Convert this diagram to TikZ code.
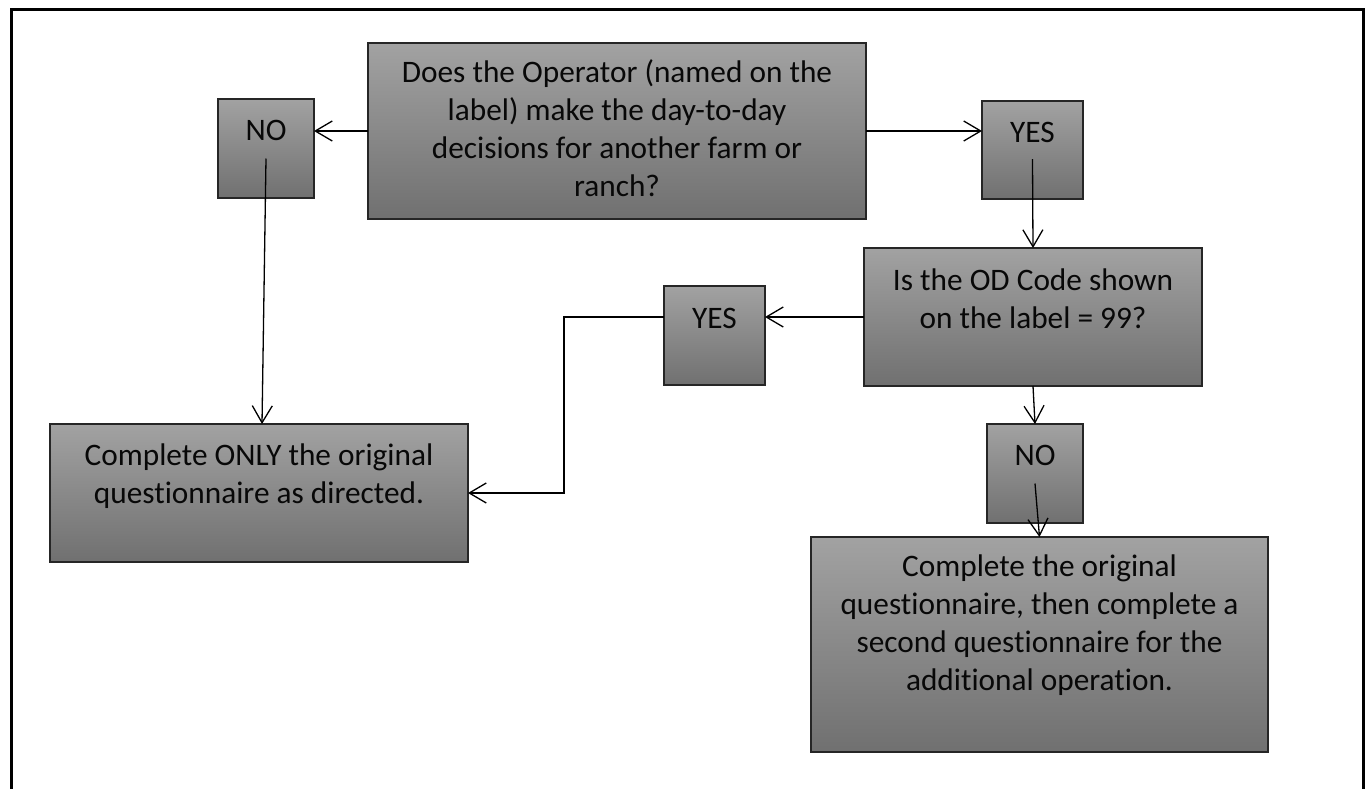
\documentclass[tikz,border=0pt]{standalone}
\usepackage{fontspec}
\setmainfont{Carlito}[Ligatures={NoCommon}]
\usetikzlibrary{arrows.meta}
\definecolor{boxtop}{RGB}{162,162,162}
\definecolor{boxbot}{RGB}{112,112,112}
\definecolor{boxline}{RGB}{38,38,38}
\definecolor{txt}{RGB}{8,8,8}
\begin{document}
\begin{tikzpicture}[x=1pt,y=-1pt,
  box/.style={draw=boxline,line width=1.5pt,top color=boxtop,bottom color=boxbot,
    inner sep=0pt,outer sep=0pt,rectangle},
  lbl/.style={anchor=base,align=center,inner sep=0pt,text=txt,
    font=\fontsize{31.3}{37.7}\selectfont},
  conn/.style={line width=1.3pt,draw=black,
    -{Straight Barb[length=17pt,width=20pt,line width=1.3pt]}},
  frame/.style={line width=3pt,draw=black}]
\useasboundingbox (0,0) rectangle (1369,788);
% frame
\coordinate (f1) at (11,790);
\coordinate (f2) at (11,9.5);
\coordinate (f3) at (1363,9.5);
\coordinate (f4) at (1363,790);
\draw[frame] (f1) -- (f2) -- (f3) -- (f4);
% boxes
\node[box,minimum width=498pt,minimum height=176pt] (q1) at (617,131) {};
\node[box,minimum width=96pt,minimum height=99pt] (no1) at (266,148.5) {};
\node[box,minimum width=101pt,minimum height=98pt] (yes1) at (1032.5,150) {};
\node[box,minimum width=338pt,minimum height=138pt] (q2) at (1033,317) {};
\node[box,minimum width=101pt,minimum height=99pt] (yes2) at (714.5,335.5) {};
\node[box,minimum width=96pt,minimum height=99pt] (no2) at (1035,473.5) {};
\node[box,minimum width=418pt,minimum height=138pt] (only) at (259,493) {};
\node[box,minimum width=457pt,minimum height=215pt] (both) at (1039.5,644.5) {};
% texts (base anchor = baseline of the last line)
\node[lbl] (tq1) at (617,196) {Does the Operator (named on the\\label) make the day-to-day\\decisions for another farm or\\ranch?};
\node[lbl] (tno1) at (266,140) {NO};
\node[lbl] (tyes1) at (1032.5,142) {YES};
\node[lbl] (tq2) at (1033,328) {Is the OD Code shown\\on the label = 99?};
\node[lbl] (tyes2) at (714.5,328) {YES};
\node[lbl] (tno2) at (1035,465) {NO};
\node[lbl] (tonly) at (259,503) {Complete ONLY the original\\questionnaire as directed.};
\node[lbl] (tboth) at (1039.5,690) {Complete the original\\questionnaire, then complete a\\second questionnaire for the\\additional operation.};
% connectors
\draw[conn] (q1.west) -- (q1.west -| no1.east);
\draw[conn] (q1.east) -- (q1.east -| yes1.west);
\draw[conn] ([yshift=-9pt]yes1.center) -- (q2.north);
\draw[conn] ([yshift=-10pt]no1.center) -- ([xshift=3pt]only.north);
\draw[conn] (q2.west) -- (q2.west -| yes2.east);
\draw[conn] (yes2.west |- q2.west) -| ([xshift=96pt]only.east) -- (only.east);
\draw[conn] (q2.south) -- (no2.north);
\draw[conn] ([yshift=-10pt]no2.center) -- (both.north);
\end{tikzpicture}
\end{document}
